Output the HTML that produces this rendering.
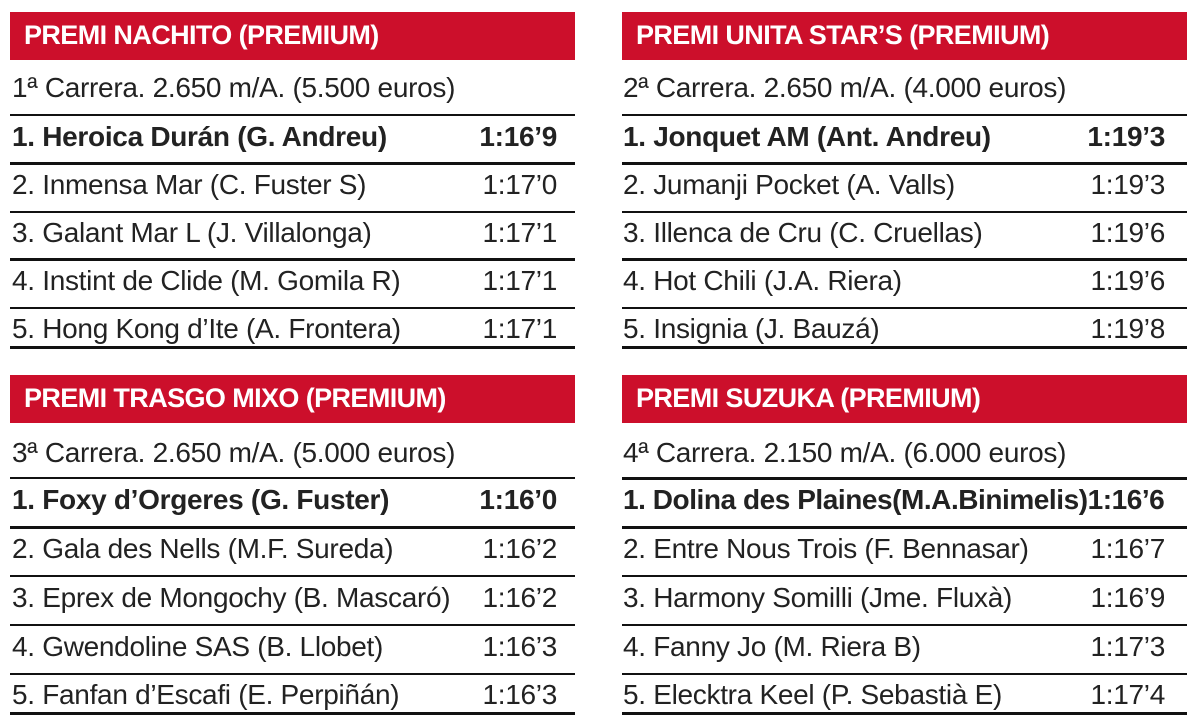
<!DOCTYPE html>
<html><head><meta charset="utf-8"><style>
body{margin:0;width:1200px;height:727px;background:#fff;position:relative;overflow:hidden;font-family:"Liberation Sans",sans-serif;color:#222}
.bar{position:absolute;width:565px;height:48px;background:#cc0f2b}
.bar span{position:absolute;left:14px;top:0;line-height:46px;color:#fff;font-weight:bold;font-size:27px;letter-spacing:-0.6px}
.t{position:absolute;width:545px;font-size:28px;line-height:30px;white-space:nowrap;letter-spacing:-0.3px}
.t .r{position:absolute;right:0;top:0}
.ln{position:absolute;width:565px;background:#111}
</style></head><body>

<div class="bar" style="left:10px;top:12px"><span>PREMI NACHITO (PREMIUM)</span></div>
<div class="t" style="left:12px;top:73px">1ª Carrera. 2.650 m/A. (5.500 euros)</div>
<div class="ln" style="left:10px;top:114px;height:2px"></div>
<div class="t" style="left:12px;top:122px;font-weight:bold">1. Heroica Durán (G. Andreu)<span class="r">1:16’9</span></div>
<div class="ln" style="left:10px;top:162px;height:3px"></div>
<div class="t" style="left:12px;top:170px">2. Inmensa Mar (C. Fuster S)<span class="r">1:17’0</span></div>
<div class="ln" style="left:10px;top:211px;height:2px"></div>
<div class="t" style="left:12px;top:218px">3. Galant Mar L (J. Villalonga)<span class="r">1:17’1</span></div>
<div class="ln" style="left:10px;top:258px;height:3px"></div>
<div class="t" style="left:12px;top:266px">4. Instint de Clide (M. Gomila R)<span class="r">1:17’1</span></div>
<div class="ln" style="left:10px;top:307px;height:2px"></div>
<div class="t" style="left:12px;top:314px">5. Hong Kong d’Ite (A. Frontera)<span class="r">1:17’1</span></div>
<div class="ln" style="left:10px;top:346px;height:3px"></div>

<div class="bar" style="left:622px;top:12px"><span>PREMI UNITA STAR’S (PREMIUM)</span></div>
<div class="t" style="left:623px;top:73px">2ª Carrera. 2.650 m/A. (4.000 euros)</div>
<div class="ln" style="left:622px;top:114px;height:2px"></div>
<div class="t" style="left:623px;top:122px;width:542px;font-weight:bold">1. Jonquet AM (Ant. Andreu)<span class="r">1:19’3</span></div>
<div class="ln" style="left:622px;top:162px;height:3px"></div>
<div class="t" style="left:623px;top:170px;width:542px">2. Jumanji Pocket (A. Valls)<span class="r">1:19’3</span></div>
<div class="ln" style="left:622px;top:211px;height:2px"></div>
<div class="t" style="left:623px;top:218px;width:542px">3. Illenca de Cru (C. Cruellas)<span class="r">1:19’6</span></div>
<div class="ln" style="left:622px;top:258px;height:3px"></div>
<div class="t" style="left:623px;top:266px;width:542px">4. Hot Chili (J.A. Riera)<span class="r">1:19’6</span></div>
<div class="ln" style="left:622px;top:307px;height:2px"></div>
<div class="t" style="left:623px;top:314px;width:542px">5. Insignia (J. Bauzá)<span class="r">1:19’8</span></div>
<div class="ln" style="left:622px;top:346px;height:3px"></div>

<div class="bar" style="left:10px;top:375px"><span>PREMI TRASGO MIXO (PREMIUM)</span></div>
<div class="t" style="left:12px;top:438px">3ª Carrera. 2.650 m/A. (5.000 euros)</div>
<div class="ln" style="left:10px;top:477px;height:2px"></div>
<div class="t" style="left:12px;top:485px;font-weight:bold">1. Foxy d’Orgeres (G. Fuster)<span class="r">1:16’0</span></div>
<div class="ln" style="left:10px;top:526px;height:3px"></div>
<div class="t" style="left:12px;top:534px">2. Gala des Nells (M.F. Sureda)<span class="r">1:16’2</span></div>
<div class="ln" style="left:10px;top:575px;height:2px"></div>
<div class="t" style="left:12px;top:583px">3. Eprex de Mongochy (B. Mascaró)<span class="r">1:16’2</span></div>
<div class="ln" style="left:10px;top:624px;height:2px"></div>
<div class="t" style="left:12px;top:632px">4. Gwendoline SAS (B. Llobet)<span class="r">1:16’3</span></div>
<div class="ln" style="left:10px;top:673px;height:2px"></div>
<div class="t" style="left:12px;top:680px">5. Fanfan d’Escafi (E. Perpiñán)<span class="r">1:16’3</span></div>
<div class="ln" style="left:10px;top:712px;height:3px"></div>

<div class="bar" style="left:622px;top:375px"><span>PREMI SUZUKA (PREMIUM)</span></div>
<div class="t" style="left:623px;top:438px">4ª Carrera. 2.150 m/A. (6.000 euros)</div>
<div class="ln" style="left:622px;top:477px;height:3px"></div>
<div class="t" style="left:623px;top:485px;width:565px;font-weight:bold;letter-spacing:-0.45px">1. Dolina des Plaines(M.A.Binimelis)1:16’6</div>
<div class="ln" style="left:622px;top:526px;height:3px"></div>
<div class="t" style="left:623px;top:534px;width:542px">2. Entre Nous Trois (F. Bennasar)<span class="r">1:16’7</span></div>
<div class="ln" style="left:622px;top:575px;height:2px"></div>
<div class="t" style="left:623px;top:583px;width:542px">3. Harmony Somilli (Jme. Fluxà)<span class="r">1:16’9</span></div>
<div class="ln" style="left:622px;top:624px;height:2px"></div>
<div class="t" style="left:623px;top:632px;width:542px">4. Fanny Jo (M. Riera B)<span class="r">1:17’3</span></div>
<div class="ln" style="left:622px;top:673px;height:2px"></div>
<div class="t" style="left:623px;top:680px;width:542px">5. Elecktra Keel (P. Sebastià E)<span class="r">1:17’4</span></div>
<div class="ln" style="left:622px;top:712px;height:3px"></div>

</body></html>
